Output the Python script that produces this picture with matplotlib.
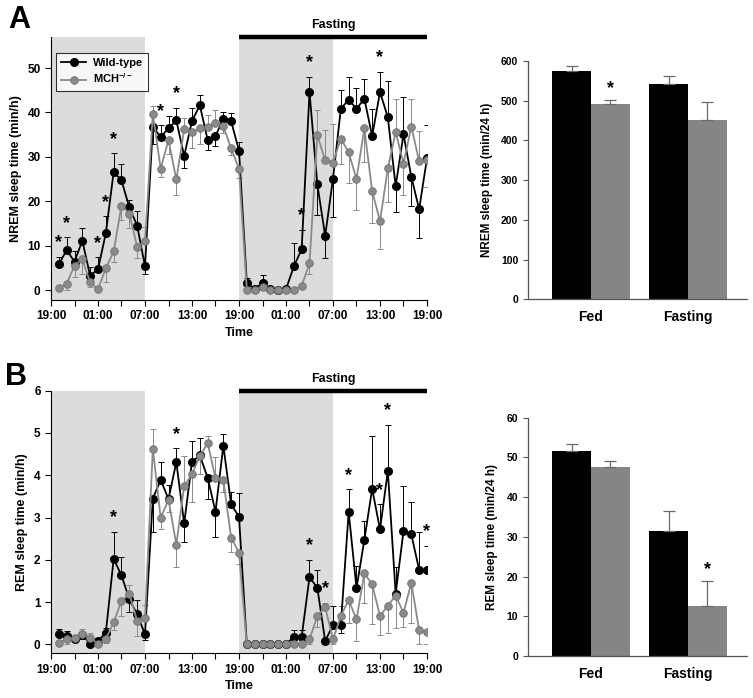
import numpy as np
import matplotlib
matplotlib.use("Agg")
import matplotlib.pyplot as plt
from matplotlib.ticker import MultipleLocator

plt.rcParams['font.family'] = ['Liberation Sans', 'DejaVu Sans']
plt.rcParams['font.weight'] = 'bold'
plt.rcParams['mathtext.fontset'] = 'custom'
plt.rcParams['mathtext.rm'] = 'Liberation Sans:bold'
plt.rcParams['mathtext.bf'] = 'Liberation Sans:bold'

# hourly bins, 20:00 on day 1 .. 19:00 on day 2 (fasting)
hours = np.arange(1, 49)
tick_pos = [0, 6, 12, 18, 24, 30, 36, 42, 48]
tick_labels = ['19:00', '01:00', '07:00', '13:00', '19:00', '01:00', '07:00', '13:00', '19:00']

# NREM sleep (min/h)
nrem_wt = [5.8, 9.0, 6.4, 11.1, 3.2, 4.7, 12.8, 26.6, 24.7, 18.6, 14.5, 5.3,
           36.7, 34.5, 36.4, 38.2, 30.2, 38.1, 41.6, 33.8, 34.7, 38.6, 38.0, 31.4,
           1.6, 0.3, 1.5, 0.2, 0.1, 0.2, 5.3, 9.2, 44.6, 23.8, 12.2, 25.1,
           40.8, 42.9, 40.8, 43.1, 34.7, 44.6, 38.9, 23.4, 35.1, 25.5, 18.2, 29.7]
nrem_wt_se = [1.7, 2.9, 2.5, 2.8, 1.9, 2.7, 3.8, 4.2, 3.7, 1.6, 3.3, 1.6,
              3.8, 2.6, 2.8, 2.9, 2.8, 3.0, 2.3, 2.3, 2.2, 1.4, 1.9, 2.0,
              1.0, 0.3, 1.9, 0.2, 0.2, 0.3, 5.3, 4.4, 3.5, 6.9, 5.1, 8.7,
              4.3, 5.0, 4.8, 4.4, 6.0, 4.5, 8.2, 5.8, 8.3, 6.6, 6.4, 7.5]
nrem_ko = [0.4, 1.4, 5.5, 6.9, 1.7, 0.2, 4.9, 8.7, 19.0, 17.2, 9.8, 11.0,
           39.7, 27.3, 33.8, 24.9, 36.2, 35.5, 36.5, 36.7, 37.7, 36.9, 31.9, 27.3,
           0.1, 0.0, 0.75, 0.0, 0.0, 0.0, 0.0, 0.9, 6.0, 34.9, 29.2, 28.7,
           34.1, 31.0, 25.0, 36.4, 22.3, 15.5, 27.4, 35.6, 28.5, 36.8, 29.0, 29.2]
nrem_ko_se = [0.3, 1.5, 2.5, 3.3, 1.0, 0.2, 3.0, 2.3, 3.2, 3.3, 2.6, 3.1,
              1.7, 1.8, 3.2, 3.5, 2.5, 3.6, 3.7, 2.7, 2.9, 1.5, 1.5, 2.0,
              0.1, 0.0, 0.5, 0.0, 0.0, 0.0, 0.0, 0.5, 2.5, 5.6, 6.8, 8.6,
              5.8, 7.0, 7.0, 7.6, 7.3, 6.2, 7.5, 7.4, 7.1, 6.2, 6.8, 5.9]
nrem_stars = [1, 2, 6, 7, 8, 14, 16, 32, 33, 42]

# REM sleep (min/h)
rem_wt = [0.24, 0.21, 0.13, 0.22, 0.02, 0.08, 0.28, 2.02, 1.63, 1.07, 0.71, 0.24,
          3.45, 3.89, 3.44, 4.31, 2.86, 4.32, 4.47, 3.94, 3.14, 4.70, 3.31, 3.02,
          0.0, 0.0, 0.0, 0.0, 0.0, 0.0, 0.18, 0.18, 1.59, 1.34, 0.08, 0.46,
          0.46, 3.13, 1.33, 2.47, 3.68, 2.72, 4.10, 1.20, 2.68, 2.60, 1.76, 1.76]
rem_wt_se = [0.12, 0.10, 0.05, 0.10, 0.05, 0.05, 0.10, 0.65, 0.43, 0.30, 0.34, 0.13,
             0.78, 0.43, 0.34, 0.33, 0.43, 0.48, 0.40, 0.50, 0.60, 0.27, 0.30, 0.55,
             0.0, 0.0, 0.0, 0.0, 0.0, 0.0, 0.15, 0.15, 0.41, 0.42, 0.08, 0.46,
             0.20, 0.54, 0.53, 0.45, 1.26, 0.59, 1.10, 0.63, 1.07, 0.77, 0.91, 0.57]
rem_ko = [0.03, 0.13, 0.14, 0.25, 0.16, 0.01, 0.13, 0.52, 1.03, 1.19, 0.56, 0.62,
          4.62, 3.00, 3.42, 2.36, 3.75, 4.02, 4.46, 4.76, 3.93, 3.89, 2.52, 2.17,
          0.0, 0.0, 0.0, 0.0, 0.0, 0.0, 0.0, 0.0, 0.12, 0.67, 0.88, 0.12,
          0.67, 1.05, 0.59, 1.68, 1.42, 0.67, 0.92, 1.15, 0.75, 1.46, 0.33, 0.29]
rem_ko_se = [0.05, 0.12, 0.05, 0.12, 0.10, 0.02, 0.10, 0.18, 0.35, 0.22, 0.36, 0.31,
             0.47, 0.26, 0.30, 0.54, 0.70, 0.66, 0.44, 0.18, 0.50, 0.28, 0.34, 0.27,
             0.0, 0.0, 0.0, 0.0, 0.0, 0.0, 0.0, 0.0, 0.10, 0.25, 0.10, 0.12,
             0.25, 0.55, 0.50, 0.70, 0.94, 0.45, 0.65, 0.75, 0.33, 0.96, 0.33, 0.29]
rem_stars = [8, 16, 33, 35, 38, 42, 43, 48]

# daily totals (min/24 h)
conditions = ['Fed', 'Fasting']
nrem_total_wt = [575.6, 541.2]
nrem_total_wt_se = [11, 21]
nrem_total_ko = [491.7, 450.6]
nrem_total_ko_se = [11, 45]
nrem_total_stars = [(0, 'ko')]
rem_total_wt = [51.7, 31.5]
rem_total_wt_se = [1.6, 5.1]
rem_total_ko = [47.6, 12.7]
rem_total_ko_se = [1.5, 6.1]
rem_total_stars = [(1, 'ko')]

BLACK = '#000000'
GRAY = '#8a8a8a'
SHADE = '#dcdcdc'

fig = plt.figure(figsize=(7.53, 6.98), dpi=100)


def line_panel(ax, wt, wt_se, ko, ko_se, stars, ylim, yticks, ylabel, legend=False):
    wt = np.array(wt); ko = np.array(ko)
    wt_se = np.array(wt_se); ko_se = np.array(ko_se)
    ax.axvspan(0, 12, color=SHADE, lw=0, zorder=0)
    ax.axvspan(24, 36, color=SHADE, lw=0, zorder=0)
    # error bars point away from the other genotype
    up = wt >= ko
    wt_err = [np.where(up, 0, wt_se), np.where(up, wt_se, 0)]
    ko_err = [np.where(up, ko_se, 0), np.where(up, 0, ko_se)]
    ax.errorbar(hours, wt, yerr=wt_err, fmt='none', ecolor=BLACK, elinewidth=0.7,
                capsize=2, capthick=0.7, zorder=2)
    ax.errorbar(hours, ko, yerr=ko_err, fmt='none', ecolor=GRAY, elinewidth=0.7,
                capsize=2, capthick=0.7, zorder=2)
    ax.plot(hours, wt, '-o', color=BLACK, lw=1.3, ms=5.5, mfc=BLACK, mec=BLACK,
            label='Wild-type', zorder=3)
    ax.plot(hours, ko, '-o', color=GRAY, lw=1.3, ms=5.5, mfc=GRAY, mec='#707070',
            mew=0.6, label=r'MCH$^{-/-}$', zorder=4)
    for h in stars:
        i = h - 1
        top = max(wt[i] + wt_err[1][i], ko[i] + ko_err[1][i])
        ax.annotate('*', (h, top), xytext=(0, 4), textcoords='offset points',
                    ha='center', va='bottom', fontsize=13, fontweight='bold')
    ax.set_xlim(0, 48)
    ax.set_ylim(*ylim)
    ax.set_yticks(yticks)
    ax.set_xticks(tick_pos)
    ax.set_xticklabels(tick_labels)
    ax.xaxis.set_minor_locator(MultipleLocator(3))
    ax.tick_params(axis='both', which='both', direction='out', length=4, width=0.8,
                   labelsize=8.5)
    ax.spines['top'].set_visible(False)
    ax.spines['right'].set_visible(False)
    ax.set_xlabel('Time', fontsize=9, fontweight='bold', labelpad=3)
    ax.set_ylabel(ylabel, fontsize=9, fontweight='bold', labelpad=4)
    ax.set_facecolor('none')
    # fasting bar over the second day
    ax.plot([24, 48], [ylim[1], ylim[1]], color=BLACK, lw=3.2, clip_on=False,
            solid_capstyle='butt', zorder=5)
    ax.annotate('Fasting', (36, ylim[1]), xytext=(0, 4), textcoords='offset points',
                ha='center', va='bottom', fontsize=9, fontweight='bold',
                annotation_clip=False)
    if legend:
        leg = ax.legend(loc='upper left', bbox_to_anchor=(0.013, 0.94), borderaxespad=0,
                        fontsize=8, frameon=True, fancybox=False, handlelength=2.2,
                        borderpad=0.5, labelspacing=0.3, handletextpad=0.6)
        leg.get_frame().set_edgecolor(BLACK)
        leg.get_frame().set_linewidth(0.8)


def bar_panel(ax, wt, wt_se, ko, ko_se, stars, ymax, ystep, ylabel):
    x = np.arange(len(conditions))
    w = 0.4
    ecol = '#6a6a6a'
    ax.bar(x - w / 2, wt, w, color=BLACK, yerr=[np.zeros(len(wt)), wt_se],
           error_kw=dict(ecolor=ecol, elinewidth=0.9, capsize=4, capthick=0.9))
    ax.bar(x + w / 2, ko, w, color='#858585', yerr=[np.zeros(len(ko)), ko_se],
           error_kw=dict(ecolor=ecol, elinewidth=0.9, capsize=4, capthick=0.9))
    for i, who in stars:
        top = ko[i] + ko_se[i] if who == 'ko' else wt[i] + wt_se[i]
        xs = x[i] + w / 2 if who == 'ko' else x[i] - w / 2
        ax.annotate('*', (xs, top), xytext=(0, 2), textcoords='offset points',
                    ha='center', va='bottom', fontsize=13, fontweight='bold')
    ax.set_xlim(-0.65, 1.61)
    ax.set_ylim(0, ymax)
    ax.set_yticks(np.arange(0, ymax + 1, ystep))
    ax.set_xticks(x)
    ax.set_xticklabels(conditions, fontsize=10, fontweight='bold')
    ax.tick_params(axis='x', length=0, pad=8)
    ax.tick_params(axis='y', direction='out', length=3.5, width=0.8, labelsize=7.5,
                   color='#555555')
    for s in ['top', 'right']:
        ax.spines[s].set_visible(False)
    for s in ['left', 'bottom']:
        ax.spines[s].set_color('#555555')
        ax.spines[s].set_linewidth(0.9)
    ax.set_ylabel(ylabel, fontsize=8.5, fontweight='bold', labelpad=6)


W, H = 753.0, 698.0
axA = fig.add_axes([51 / W, 1 - 300 / H, 376 / W, 263 / H])
axA2 = fig.add_axes([528 / W, 1 - 299.3 / H, 219 / W, 238.3 / H])
axB = fig.add_axes([51 / W, 1 - 653.3 / H, 376 / W, 262.6 / H])
axB2 = fig.add_axes([528 / W, 1 - 656 / H, 219 / W, 238.3 / H])

line_panel(axA, nrem_wt, nrem_wt_se, nrem_ko, nrem_ko_se, nrem_stars,
           (-2.25, 57), [0, 10, 20, 30, 40, 50], 'NREM sleep time (min/h)', legend=True)
line_panel(axB, rem_wt, rem_wt_se, rem_ko, rem_ko_se, rem_stars,
           (-0.21, 6), [0, 1, 2, 3, 4, 5, 6], 'REM sleep time (min/h)')
bar_panel(axA2, nrem_total_wt, nrem_total_wt_se, nrem_total_ko, nrem_total_ko_se,
          nrem_total_stars, 600, 100, 'NREM sleep time (min/24 h)')
bar_panel(axB2, rem_total_wt, rem_total_wt_se, rem_total_ko, rem_total_ko_se,
          rem_total_stars, 60, 10, 'REM sleep time (min/24 h)')

fig.text(8 / W, 1 - 5 / H, 'A', fontsize=22, fontweight='bold', ha='left', va='top')
fig.text(5 / W, 1 - 362 / H, 'B', fontsize=22, fontweight='bold', ha='left', va='top')

fig.savefig('out.png', dpi=100)
